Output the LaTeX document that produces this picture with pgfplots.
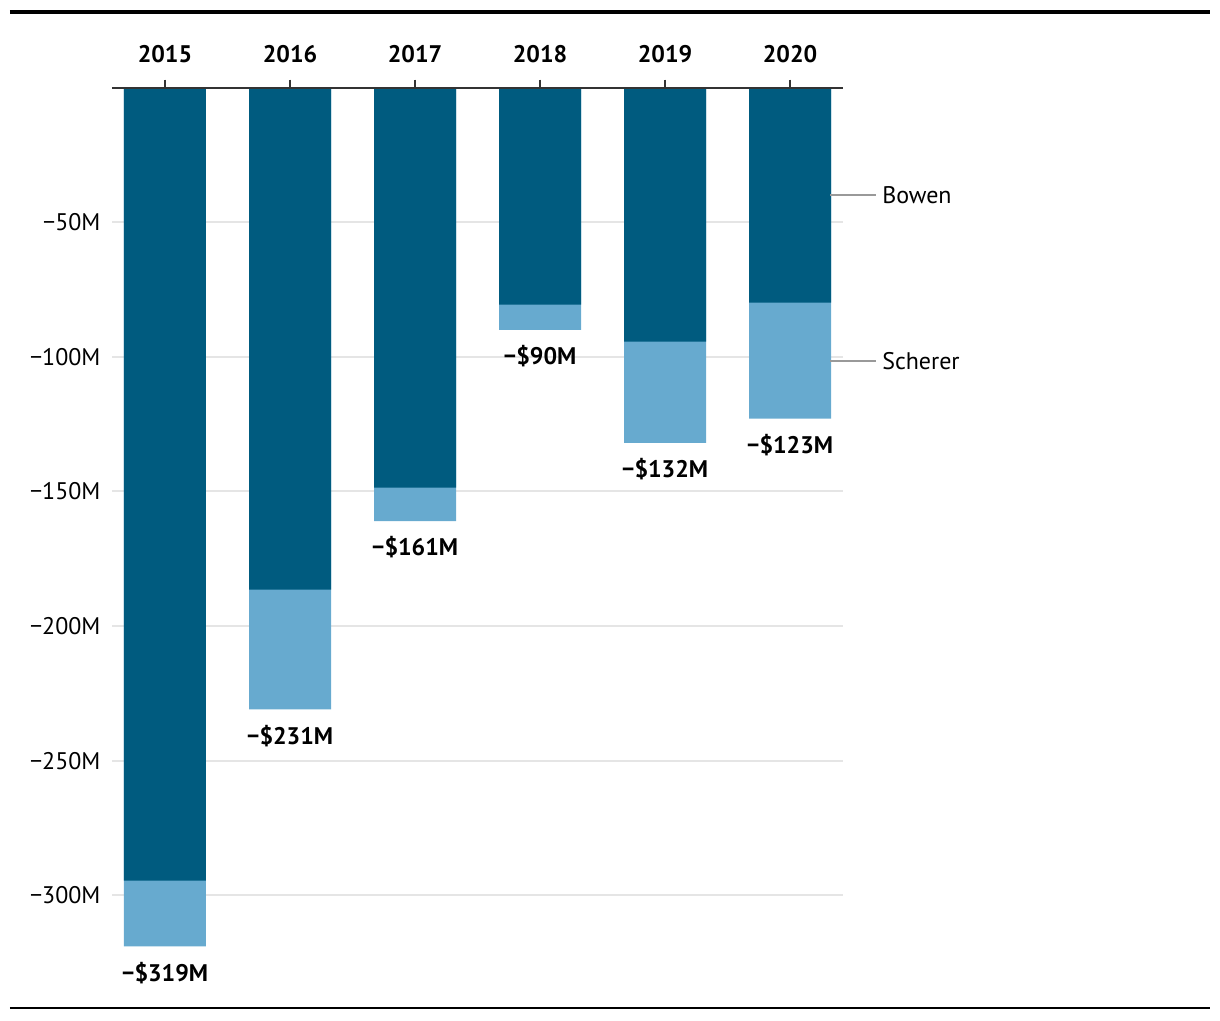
\documentclass[border=0pt]{standalone}
\usepackage{pgfplots}
\pgfplotsset{compat=1.18}
\usepackage{fontspec}
\setmainfont{PT Sans}
\definecolor{bowen}{HTML}{005B7F}
\definecolor{scherer}{HTML}{67AACF}
\definecolor{gridc}{HTML}{E5E5E5}
\definecolor{axc}{HTML}{333333}
\definecolor{leader}{HTML}{999999}
\begin{document}
\begin{tikzpicture}[x=1pt,y=1pt]
\path[use as bounding box] (-112,-44) rectangle (1108,976);
\draw[line width=4pt] (-102,964) -- (1098,964);
\draw[line width=2pt] (-102,-32) -- (1098,-32);
\begin{axis}[
  at={(0,0)}, anchor=south west,
  scale only axis, width=731pt, height=888.4pt,
  xmin=-0.424, xmax=5.424, ymin=-330, ymax=0,
  ybar, bar width=82pt, bar shift=0pt,
  axis line style={draw=none},
  xtick={0,1,2,3,4,5},
  xticklabels={2015,2016,2017,2018,2019,2020},
  xticklabel style={font=\fontsize{24}{28}\selectfont\bfseries, yshift=13pt},
  xtick pos=top, xticklabel pos=upper,
  tick align=outside,
  major tick length=8pt,
  xtick style={draw=axc, line width=1.3pt},
  ytick={-50,-100,-150,-200,-250,-300},
  yticklabels={−50M,−100M,−150M,−200M,−250M,−300M},
  yticklabel style={font=\fontsize{24}{28}\selectfont, xshift=0pt},
  ytick style={draw=none},
  ymajorgrids, grid style={draw=gridc, line width=2pt},
  clip=false, axis on top=false,
]
\addplot[fill=scherer, draw=none,
  nodes near coords, point meta=explicit symbolic,
  nodes near coords align={below},
  every node near coord/.append style={font=\fontsize{24}{28}\selectfont\bfseries, anchor=north, yshift=-12pt, text=black}]
  table[meta=lab] {
x y lab
0 -319 {−\$319M}
1 -231 {−\$231M}
2 -161 {−\$161M}
3 -90 {−\$90M}
4 -132 {−\$132M}
5 -123 {−\$123M}
};
\addplot[fill=bowen, draw=none] coordinates {
(0,-294.6) (1,-186.5) (2,-148.6) (3,-80.6) (4,-94.4) (5,-79.9)};
\draw[axc, line width=2pt] (rel axis cs:0,1) -- (rel axis cs:1,1);
\draw[leader, line width=2pt] (axis cs:5.32,-40) -- (axis cs:5.69,-40)
  node[right, text=black, font=\fontsize{24}{28}\selectfont, inner sep=5pt] {Bowen};
\draw[leader, line width=2pt] (axis cs:5.32,-101.5) -- (axis cs:5.69,-101.5)
  node[right, text=black, font=\fontsize{24}{28}\selectfont, inner sep=5pt] {Scherer};
\end{axis}
\end{tikzpicture}
\end{document}
